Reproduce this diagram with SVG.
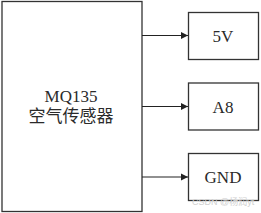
<svg xmlns="http://www.w3.org/2000/svg" width="261" height="213" viewBox="0 0 261 213">
<defs>
<style>
.box{fill:#fff;stroke:#333;stroke-width:1.3}
.t{font-family:"Liberation Serif","Noto Sans CJK SC",serif;font-size:17px;fill:#2a2a2a;text-anchor:middle}
.c{stroke:#222;stroke-width:1.2;fill:none}
.wm{font-family:"Liberation Sans","Noto Sans CJK SC",sans-serif;font-size:9px;fill:#d0d0d0}
</style>
<marker id="ah" markerWidth="8" markerHeight="8" refX="7" refY="4" orient="auto" markerUnits="userSpaceOnUse">
<path d="M0,0.5 L7,4 L0,7.5 Z" fill="#222"/>
</marker>
</defs>
<rect width="261" height="213" fill="#fff"/>
<g id="sensor">
<rect class="box" x="2" y="1.5" width="140" height="210"/>
<text class="t" x="71" y="102">MQ135</text>
<text class="t" x="71" y="122">空气传感器</text>
</g>
<g id="n5v">
<rect class="box" x="188.5" y="12.5" width="70" height="47"/>
<text class="t" x="223" y="42">5V</text>
</g>
<g id="na8">
<rect class="box" x="188.5" y="83" width="70" height="47"/>
<text class="t" x="223" y="113">A8</text>
</g>
<g id="ngnd">
<rect class="box" x="188.5" y="153.5" width="70" height="47"/>
<text class="t" x="223" y="183">GND</text>
</g>
<g id="connectors">
<line class="c" x1="142" y1="35.5" x2="188" y2="35.5" marker-end="url(#ah)"/>
<line class="c" x1="142" y1="106.5" x2="188" y2="106.5" marker-end="url(#ah)"/>
<line class="c" x1="142" y1="177" x2="188" y2="177" marker-end="url(#ah)"/>
</g>
<text class="wm" x="192" y="205">CSDN @杨润yt</text>
</svg>
